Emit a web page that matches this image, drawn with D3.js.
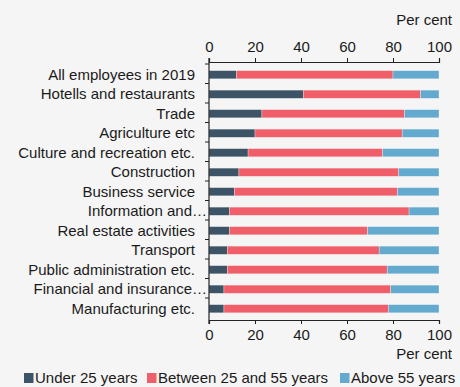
<!DOCTYPE html>
<html>
<head>
<meta charset="utf-8">
<script src="https://cdn.jsdelivr.net/npm/d3@7"></script>
<style>
  html, body { margin: 0; padding: 0; background: #f5f5f5; }
  svg { display: block; font-family: "Liberation Sans", Arial, sans-serif; }
</style>
</head>
<body>
<svg id="chart" width="460" height="387"></svg>
<script>
// Age distribution of employees by industry (per cent)
const categories = [
  "All employees in 2019",
  "Hotells and restaurants",
  "Trade",
  "Agriculture etc",
  "Culture and recreation etc.",
  "Construction",
  "Business service",
  "Information and…",
  "Real estate activities",
  "Transport",
  "Public administration etc.",
  "Financial and insurance…",
  "Manufacturing etc."
];
const seriesNames = ["Under 25 years", "Between 25 and 55 years", "Above 55 years"];
const under25   = [12, 41, 23, 20, 17, 13, 11, 9, 9, 8, 8, 6.5, 6.5];
const between   = [68, 51, 62, 64, 58.5, 69.5, 71, 78, 60, 66, 69.5, 72.5, 71.5];
const above55   = [20, 8, 15, 16, 24.5, 17.5, 18, 13, 31, 26, 22.5, 21, 22];
const xTicks = [0, 20, 40, 60, 80, 100];
const colors = ["#3c5466", "#ef5e69", "#64aace"];

const svg = d3.select("#chart");
const textColor = "#1a1a1a";

const x = d3.scaleLinear().domain([0, 100]).range([209, 439]);
const y = d3.scaleBand().domain(categories).range([64, 317.5]).padding(0);

const rows = categories.map((c, i) => ({ cat: c, vals: [under25[i], between[i], above55[i]] }));
const stack = d3.stack().keys([0, 1, 2]).value((d, k) => d.vals[k]);
const layers = stack(rows);

// stacked bars
svg.append("g").selectAll("g")
  .data(layers)
  .join("g")
  .attr("fill", (d, i) => colors[i])
  .selectAll("rect")
  .data(d => d)
  .join("rect")
  .attr("x", d => x(d[0]))
  .attr("width", d => x(d[1]) - x(d[0]))
  .attr("y", d => y(d.data.cat) + y.bandwidth() * 0.34)
  .attr("height", y.bandwidth() * 0.42)
  .attr("stroke", "#ffffff")
  .attr("stroke-opacity", 0.5)
  .attr("stroke-width", 0.6);

// top axis
const topAxis = svg.append("g")
  .attr("transform", "translate(0,62)")
  .call(d3.axisTop(x).tickValues(xTicks).tickSize(4).tickPadding(6));
// bottom axis
const botAxis = svg.append("g")
  .attr("transform", "translate(0,320)")
  .call(d3.axisBottom(x).tickValues(xTicks).tickSize(4).tickPadding(5));
[topAxis, botAxis].forEach(g => {
  g.select(".domain").attr("stroke", "#222").attr("stroke-width", 1.2);
  g.selectAll(".tick line").attr("stroke", "#222");
  g.selectAll("text").attr("font-size", 15).attr("fill", textColor)
    .attr("font-family", "Liberation Sans, Arial, sans-serif");
});

// left axis line with ticks at band edges
const leftG = svg.append("g");
leftG.append("line")
  .attr("x1", 209).attr("x2", 209)
  .attr("y1", 58).attr("y2", 324)
  .attr("stroke", "#222").attr("stroke-width", 1.2);
leftG.selectAll("line.tk")
  .data(categories)
  .join("line")
  .attr("class", "tk")
  .attr("x1", 205).attr("x2", 209)
  .attr("y1", d => y(d)).attr("y2", d => y(d))
  .attr("stroke", "#222");

// category labels
svg.append("g").selectAll("text")
  .data(categories)
  .join("text")
  .attr("x", d => d.endsWith("…") ? 207 : 195)
  .attr("y", d => y(d) + y.bandwidth() * 0.55)
  .attr("dy", "0.35em")
  .attr("text-anchor", "end")
  .attr("font-size", 15)
  .attr("fill", textColor)
  .text(d => d);

// unit labels
svg.append("text").attr("x", 452).attr("y", 25).attr("text-anchor", "end")
  .attr("font-size", 15).attr("fill", textColor).text("Per cent");
svg.append("text").attr("x", 452).attr("y", 359).attr("text-anchor", "end")
  .attr("font-size", 15).attr("fill", textColor).text("Per cent");

// legend
const legendX = [24, 147, 340];
const legend = svg.append("g").selectAll("g")
  .data(seriesNames)
  .join("g")
  .attr("transform", (d, i) => `translate(${legendX[i]},0)`);
legend.append("rect")
  .attr("x", 0).attr("y", 373).attr("width", 9.5).attr("height", 10)
  .attr("fill", (d, i) => colors[i]);
legend.append("text")
  .attr("x", 11).attr("y", 383)
  .attr("font-size", 15).attr("fill", textColor)
  .text(d => d);
</script>
</body>
</html>
